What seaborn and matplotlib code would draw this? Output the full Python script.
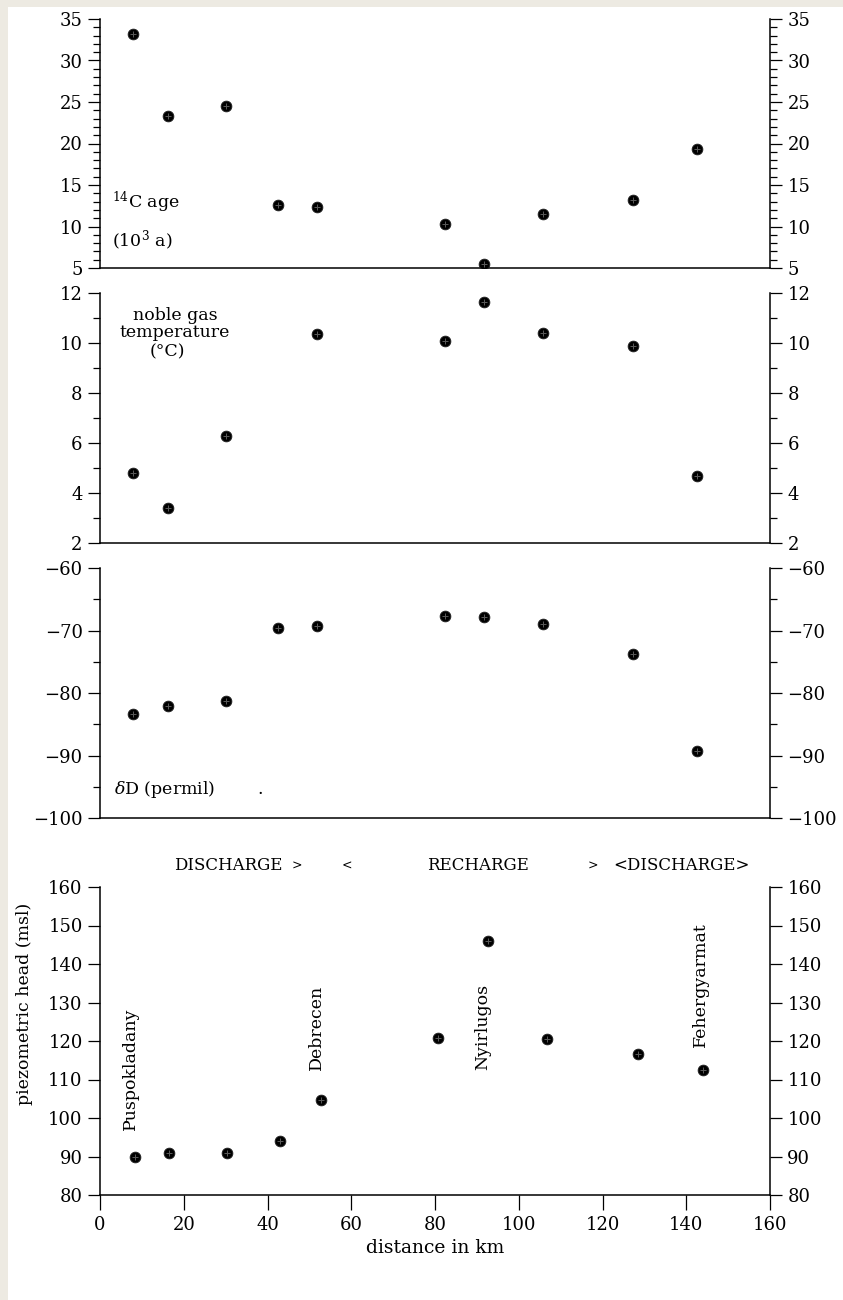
#!/usr/bin/env python3
"""Perfil de isótopos y nivel piezométrico a lo largo de la sección (reconstrucción)."""

import matplotlib
matplotlib.use("Agg")
import matplotlib.pyplot as plt
import seaborn as sns
import pandas as pd
from matplotlib.ticker import MultipleLocator, FuncFormatter
from matplotlib.patches import Rectangle

# --- datos ---------------------------------------------------------------
dist_top = [7.9, 16.2, 30.1, 42.5, 51.8, 82.3, 91.6, 105.7, 127.2, 142.5]
c14_age = [33.2, 23.3, 24.5, 12.6, 12.3, 10.3, 5.5, 11.5, 13.2, 19.3]

dist_ngt = [7.9, 16.2, 30.1, 51.8, 82.3, 91.6, 105.7, 127.2, 142.5]
noble_gas_temp = [4.8, 3.4, 6.3, 10.35, 10.1, 11.65, 10.4, 9.9, 4.7]

delta_d = [-83.3, -82.0, -81.2, -69.6, -69.3, -67.6, -67.8, -68.9, -73.7, -89.3]

dist_head = [8.3, 16.5, 30.3, 43.0, 52.7, 80.7, 92.6, 106.7, 128.4, 143.9]
piezo_head = [90.0, 91.0, 91.0, 93.9, 104.8, 120.8, 146.0, 120.5, 116.5, 112.5]

towns = ["Puspokladany", "Debrecen", "Nyirlugos", "Fehergyarmat"]
town_x = [7.2, 51.7, 91.4, 143.3]
town_y = [96.9, 112.5, 112.5, 118.4]

x_ticks = [0, 20, 40, 60, 80, 100, 120, 140, 160]

sns.set_theme(style="ticks")
plt.rcParams["font.family"] = ["DejaVu Serif"]
plt.rcParams["mathtext.fontset"] = "dejavuserif"
plt.rcParams["text.color"] = "black"
plt.rcParams["axes.labelcolor"] = "black"

BEIGE = "#EDEAE2"
fig = plt.figure(figsize=(8.43, 13), dpi=100, facecolor="white")
# borde beige del escaneo (arriba e izquierda)
fig.patches.append(Rectangle((0, 0), 8 / 843, 1, transform=fig.transFigure,
                             facecolor=BEIGE, edgecolor="none", zorder=-10))
fig.patches.append(Rectangle((0, 1 - 7 / 1300), 1, 7 / 1300, transform=fig.transFigure,
                             facecolor=BEIGE, edgecolor="none", zorder=-10))

left, width = 100 / 843, 670 / 843
ax1 = fig.add_axes([left, 1 - 268 / 1300, width, 249 / 1300])
ax2 = fig.add_axes([left, 1 - 543 / 1300, width, 250 / 1300])
ax3 = fig.add_axes([left, 1 - 818 / 1300, width, 250 / 1300])
ax4 = fig.add_axes([left, 1 - 1195 / 1300, width, 308 / 1300])


def dots(ax, x, y):
    df = pd.DataFrame({"x": x, "y": y})
    sns.scatterplot(data=df, x="x", y="y", ax=ax, color="black", s=60,
                    edgecolor="#222222", linewidth=0.6, zorder=3)
    ax.scatter(df["x"], df["y"], marker="+", s=14, color="#5a5a5a",
               linewidths=0.7, zorder=4)


def style(ax, ylim, major, minor=None, xlabels=False):
    ax.set_xlim(0, 160)
    ax.set_ylim(*ylim)
    ax.set_facecolor("none")
    ax.spines["top"].set_visible(False)
    for s in ("left", "right", "bottom"):
        ax.spines[s].set_linewidth(1.1)
        ax.spines[s].set_color("black")
    ax.yaxis.set_major_locator(MultipleLocator(major))
    if minor:
        ax.yaxis.set_minor_locator(MultipleLocator(minor))
    ax.tick_params(axis="y", which="both", direction="out", left=True, right=True,
                   labelleft=True, labelright=True, labelsize=13, pad=4, colors="black")
    ax.tick_params(axis="y", which="major", length=8.5, width=0.9)
    ax.tick_params(axis="y", which="minor", length=5, width=0.9)
    ax.set_ylabel("")
    ax.set_xlabel("")
    if xlabels:
        ax.set_xticks(x_ticks)
        ax.tick_params(axis="x", direction="out", length=11, width=0.9,
                       labelsize=13, pad=4, colors="black", bottom=True)
    else:
        ax.set_xticks([])


# --- panel 1: edad 14C -----------------------------------------------------
dots(ax1, dist_top, c14_age)
style(ax1, (5, 35), 5, 1)
ax1.text(2.9, 12.9, "$^{14}$C age", fontsize=12.5, va="center", ha="left")
ax1.text(2.9, 8.3, "(10$^{3}$ a)", fontsize=12.5, va="center", ha="left")

# --- panel 2: temperatura de gases nobles -------------------------------
dots(ax2, dist_ngt, noble_gas_temp)
style(ax2, (2, 12), 2, 1)
ax2.text(17.9, 11.12, "noble gas", fontsize=12.5, ha="center", va="center")
ax2.text(17.9, 10.42, "temperature", fontsize=12.5, ha="center", va="center")
ax2.text(16.0, 9.66, "(°C)", fontsize=12.5, ha="center", va="center")

# --- panel 3: deuterio -----------------------------------------------------
dots(ax3, dist_top, delta_d)
style(ax3, (-100, -60), 10, 5)
ax3.yaxis.set_major_formatter(FuncFormatter(lambda v, p: f"\u2212{abs(int(v))}"))
ax3.text(3.4, -95.5, "$\\delta$D (permil)", fontsize=12.5, va="center", ha="left")
ax3.text(37.5, -95.5, ".", fontsize=12.5, va="center", ha="left")

# --- panel 4: nivel piezométrico ------------------------------------------
dots(ax4, dist_head, piezo_head)
style(ax4, (80, 160), 10, xlabels=True)
ax4.set_xlabel("distance in km", fontsize=13.5, labelpad=4)
ax4.set_ylabel("piezometric head (msl)", fontsize=12.5)
ax4.yaxis.set_label_coords(-0.1, 0.62)
for name, tx, ty in zip(towns, town_x, town_y):
    ax4.text(tx, ty, name, rotation=90, fontsize=12.5, ha="center", va="bottom")

head_y = 165.5
ax4.text(17.7, head_y, "DISCHARGE", fontsize=12, ha="left", va="center", clip_on=False)
ax4.text(47.1, head_y, ">", fontsize=9, ha="center", va="center", clip_on=False)
ax4.text(58.9, head_y, "<", fontsize=9, ha="center", va="center", clip_on=False)
ax4.text(78.0, head_y, "RECHARGE", fontsize=12, ha="left", va="center", clip_on=False)
ax4.text(117.7, head_y, ">", fontsize=9, ha="center", va="center", clip_on=False)
ax4.text(122.5, head_y, "<DISCHARGE>", fontsize=12, ha="left", va="center", clip_on=False)

fig.savefig("out.png", dpi=100, facecolor=fig.get_facecolor())
plt.close(fig)
